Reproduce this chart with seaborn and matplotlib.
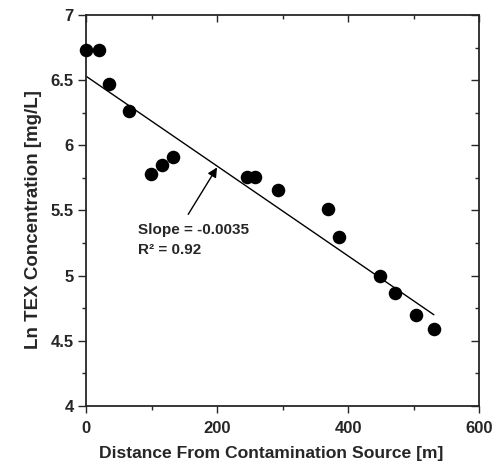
import numpy as np
import pandas as pd
import matplotlib
matplotlib.use('Agg')
import matplotlib.pyplot as plt
import seaborn as sns
from matplotlib.ticker import MultipleLocator

# data
distance = [0, 20, 35, 66, 99, 116, 133, 246, 258, 293, 370, 386, 449, 472, 504, 531]
ln_tex = [6.73, 6.73, 6.47, 6.26, 5.78, 5.85, 5.91, 5.76, 5.76, 5.66, 5.51, 5.30, 5.00, 4.87, 4.70, 4.59]

# regression line (ends of the drawn fit)
fit_x = [0, 531]
fit_y = [6.53, 4.70]

slope_text = 'Slope = -0.0035'
r2_text = 'R² = 0.92'

sns.set_style('ticks')
plt.rcParams['font.family'] = ['Liberation Sans', 'DejaVu Sans']
plt.rcParams['font.weight'] = 'bold'

fig = plt.figure(figsize=(5.01, 4.66), dpi=100)
ax = fig.add_axes([0.1717, 0.1288, 0.7845, 0.8392])

df = pd.DataFrame({'x': distance, 'y': ln_tex})
sns.scatterplot(data=df, x='x', y='y', ax=ax, color='black', s=95,
                edgecolor='black', linewidth=0, zorder=3, clip_on=False)
fit = pd.DataFrame({'x': fit_x, 'y': fit_y})
sns.lineplot(data=fit, x='x', y='y', ax=ax, color='black', linewidth=1.0)

ax.annotate('', xy=(200, 5.83), xytext=(156, 5.47),
            arrowprops=dict(arrowstyle='-|>', color='black', lw=1.0,
                            mutation_scale=14, shrinkA=0, shrinkB=0))
ax.text(79, 5.35, slope_text, fontsize=11, fontweight='bold', va='center', ha='left')
ax.text(79, 5.20, r2_text, fontsize=11, fontweight='bold', va='center', ha='left')

ax.set_xlim(0, 600)
ax.set_ylim(4, 7)
ax.xaxis.set_major_locator(MultipleLocator(200))
ax.xaxis.set_minor_locator(MultipleLocator(100))
ax.yaxis.set_major_locator(MultipleLocator(0.5))
ax.yaxis.set_minor_locator(MultipleLocator(0.25))
ax.set_yticks([4, 4.5, 5, 5.5, 6, 6.5, 7], ['4', '4.5', '5', '5.5', '6', '6.5', '7'])

ax.tick_params(which='both', direction='out', top=True, right=True, width=1.0,
               labelsize=12)
ax.tick_params(axis='x', which='major', length=5, pad=6)
ax.tick_params(axis='y', which='major', length=6, pad=3)
ax.tick_params(which='minor', length=3)
for lab in ax.get_xticklabels() + ax.get_yticklabels():
    lab.set_fontweight('bold')

# top and right ticks point inward
for t in ax.xaxis.get_major_ticks() + ax.xaxis.get_minor_ticks():
    t.tick2line.set_marker(3)
for t in ax.yaxis.get_major_ticks() + ax.yaxis.get_minor_ticks():
    t.tick2line.set_marker(0)

for sp in ax.spines.values():
    sp.set_linewidth(1.3)

ax.set_xlabel('Distance From Contamination Source [m]', fontsize=12.6, fontweight='bold', labelpad=7)
ax.set_ylabel('Ln TEX Concentration [mg/L]', fontsize=13.5, fontweight='bold', labelpad=6)
ax.xaxis.label.set_x(0.47)
ax.yaxis.label.set_y(0.476)

fig.savefig('out.png', dpi=100)
